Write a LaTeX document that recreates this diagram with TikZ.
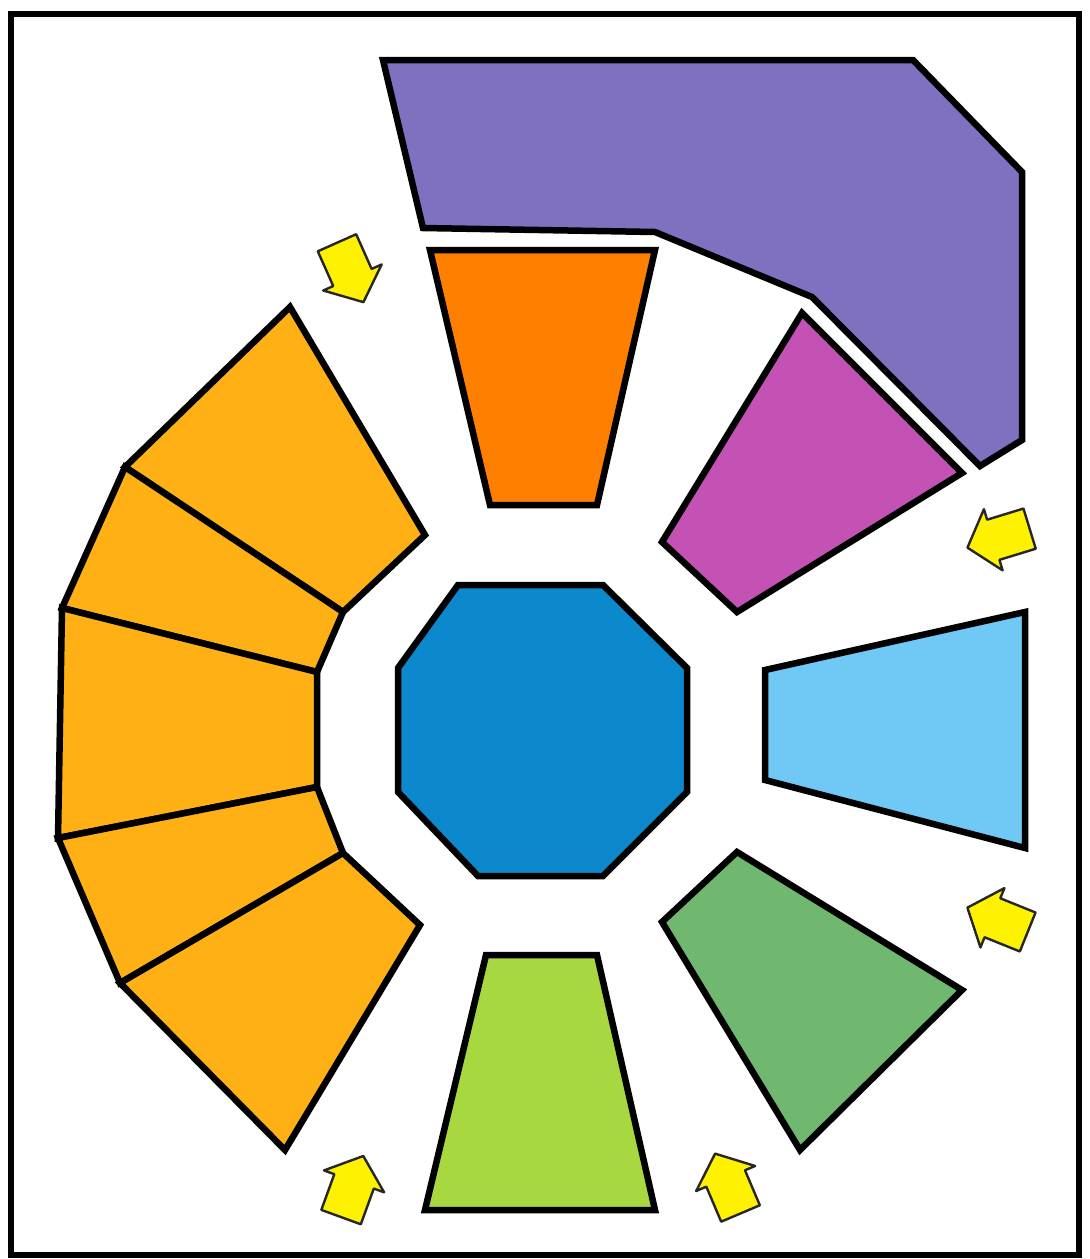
\documentclass[tikz,border=0pt]{standalone}
\begin{document}
\begin{tikzpicture}[x=1pt,y=-1pt,
  tile/.style={draw=black,line width=6.5pt,line join=miter,miter limit=2},
  blockarrow/.style={draw=black!85,fill=yellow,line width=2.4pt,line join=round}]
\definecolor{cPurple}{RGB}{128,112,192}
\definecolor{cDkOrange}{RGB}{255,128,0}
\definecolor{cMagenta}{RGB}{196,82,180}
\definecolor{cLtBlue}{RGB}{112,200,245}
\definecolor{cGreen}{RGB}{112,184,112}
\definecolor{cLime}{RGB}{168,216,64}
\definecolor{cBlue}{RGB}{12,136,204}
\definecolor{cOrange}{RGB}{255,176,20}
\useasboundingbox (0,0) rectangle (1090,1259);
\fill[white] (0,0) rectangle (1090,1259);
\draw[line width=5.5pt] (11,14) rectangle (1079,1255);

% purple
\draw[tile,fill=cPurple] (383,60) -- (913,60) -- (1022,172) -- (1022,440) -- (980,466)
  -- (812,297) -- (655,232) -- (423,228) -- cycle;
% dark orange
\draw[tile,fill=cDkOrange] (430,250) -- (655,250) -- (597,505) -- (490,505) -- cycle;
% magenta
\draw[tile,fill=cMagenta] (802,313) -- (962,473) -- (737,612) -- (662,542) -- cycle;
% light blue
\draw[tile,fill=cLtBlue] (765,670) -- (1025,612) -- (1025,848) -- (765,780) -- cycle;
% green
\draw[tile,fill=cGreen] (662,922) -- (737,852) -- (962,990) -- (800,1150) -- cycle;
% lime
\draw[tile,fill=cLime] (486,955) -- (597,955) -- (655,1210) -- (425,1210) -- cycle;
% blue octagon
\draw[tile,fill=cBlue] (458,585) -- (603,585) -- (687,668) -- (687,792) -- (603,876)
  -- (478,876) -- (398,792) -- (398,668) -- cycle;
% orange fan
\coordinate (oa) at (290,307); \coordinate (ob) at (125,467); \coordinate (oc) at (62,608);
\coordinate (od) at (58,838); \coordinate (oe) at (120,983); \coordinate (of) at (285,1150);
\coordinate (iA) at (425,535); \coordinate (iB) at (343,612); \coordinate (iC) at (317,672);
\coordinate (iD) at (317,787); \coordinate (iE) at (343,853); \coordinate (iF) at (420,925);
\draw[tile,fill=cOrange] (oa) -- (iA) -- (iB) -- (ob) -- cycle;
\draw[tile,fill=cOrange] (ob) -- (iB) -- (iC) -- (oc) -- cycle;
\draw[tile,fill=cOrange] (oc) -- (iC) -- (iD) -- (od) -- cycle;
\draw[tile,fill=cOrange] (od) -- (iD) -- (iE) -- (oe) -- cycle;
\draw[tile,fill=cOrange] (oe) -- (iE) -- (iF) -- (of) -- cycle;

% arrows
\def\yarrow#1#2{%
  \draw[blockarrow,shift={(#1)},rotate=#2]
    (-32,-21) -- (6,-21) -- (6,-32) -- (33,0) -- (6,32) -- (6,21) -- (-32,21) -- cycle;}
\yarrow{350,272}{-66}
\yarrow{999,538}{197}
\yarrow{998,920}{158}
\yarrow{352,1187}{70}
\yarrow{728,1184}{113}
\end{tikzpicture}
\end{document}
